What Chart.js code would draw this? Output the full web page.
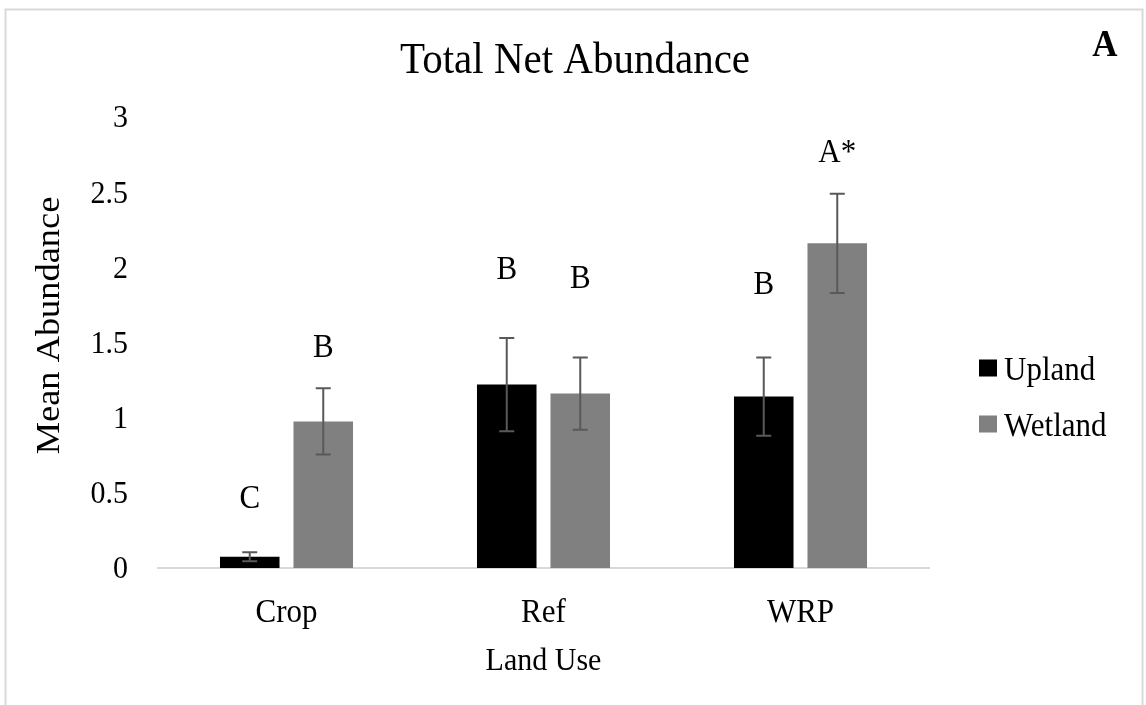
<!DOCTYPE html>
<html>
<head>
<meta charset="utf-8">
<script src="https://cdn.jsdelivr.net/npm/chart.js@4.4.1/dist/chart.umd.min.js"></script>
<style>
  html, body { margin: 0; padding: 0; background: #ffffff; }
  #wrap { width: 1146px; height: 705px; position: relative; }
</style>
</head>
<body>
<div id="wrap"><canvas id="chart" width="1146" height="705"></canvas></div>
<script>
// Land-use categories and mean abundance per habitat, with standard errors
const landUse = ['Crop', 'Ref', 'WRP'];
const uplandMean = [0.075, 1.22, 1.14];
const uplandErr = [0.03, 0.31, 0.26];
const wetlandMean = [0.975, 1.16, 2.16];
const wetlandErr = [0.22, 0.24, 0.33];

// Significance letters and the axis value each one sits at
const uplandLetters = ['C', 'B', 'B'];
const wetlandLetters = ['B', 'B', 'A*'];
const uplandLetterAt = [0.46, 1.98, 1.88];
const wetlandLetterAt = [1.46, 1.92, 2.76];

const yTicks = [0, 0.5, 1, 1.5, 2, 2.5, 3];
const yTickLabels = ['0', '0.5', '1', '1.5', '2', '2.5', '3'];

const SERIF = '"Liberation Serif", "Times New Roman", serif';
const TEXT_STRETCH = 1.07; // glyphs are slightly taller than wide

function drawText(ctx, text, x, y, font, align, baseline, rotate) {
  ctx.save();
  ctx.translate(x, y);
  if (rotate) ctx.rotate(rotate);
  ctx.scale(rotate ? TEXT_STRETCH : 1, rotate ? 1 : TEXT_STRETCH);
  ctx.font = font;
  ctx.textAlign = align;
  ctx.textBaseline = baseline;
  ctx.fillStyle = '#000000';
  ctx.fillText(text, 0, 0);
  ctx.restore();
}

const errorBars = {
  id: 'errorBars',
  afterDatasetsDraw(chart) {
    const ctx = chart.ctx;
    const y = chart.scales.y;
    ctx.save();
    ctx.strokeStyle = '#595959';
    ctx.lineWidth = 2;
    chart.data.datasets.forEach((ds, di) => {
      const meta = chart.getDatasetMeta(di);
      meta.data.forEach((bar, i) => {
        const v = ds.data[i], e = ds.errors[i];
        const top = y.getPixelForValue(v + e);
        const bot = y.getPixelForValue(v - e);
        const cx = bar.x;
        ctx.beginPath();
        ctx.moveTo(cx, top); ctx.lineTo(cx, bot);
        ctx.moveTo(cx - 7.5, top); ctx.lineTo(cx + 7.5, top);
        ctx.moveTo(cx - 7.5, bot); ctx.lineTo(cx + 7.5, bot);
        ctx.stroke();
      });
    });
    ctx.restore();
  }
};

const annotations = {
  id: 'annotations',
  beforeDraw(chart) {
    const ctx = chart.ctx;
    ctx.save();
    ctx.fillStyle = '#ffffff';
    ctx.fillRect(0, 0, chart.width, chart.height);
    // outer frame
    ctx.strokeStyle = '#d9d9d9';
    ctx.lineWidth = 2;
    ctx.strokeRect(5.5, 9.5, 1137, 720);
    ctx.restore();
  },
  afterDraw(chart) {
    const ctx = chart.ctx;
    const x = chart.scales.x;
    const y = chart.scales.y;

    drawText(ctx, 'Total Net Abundance', 575, 61, '41px ' + SERIF, 'center', 'middle');
    drawText(ctx, 'A', 1105, 46, 'bold 35px ' + SERIF, 'center', 'middle');

    // value axis: tick labels and title
    y.ticks.forEach((t) => {
      drawText(ctx, yTickLabels[yTicks.indexOf(t.value)], 128, y.getPixelForValue(t.value) + 2,
        '30px ' + SERIF, 'right', 'middle');
    });
    drawText(ctx, 'Mean Abundance', 50, (y.getPixelForValue(0) + y.getPixelForValue(3)) / 2 - 17,
      '34px ' + SERIF, 'center', 'middle', -Math.PI / 2);

    // category axis: tick labels and title
    landUse.forEach((name, i) => {
      drawText(ctx, name, x.getPixelForTick(i), 613, '31px ' + SERIF, 'center', 'middle');
    });
    drawText(ctx, 'Land Use', (x.left + x.right) / 2, 662, '30px ' + SERIF, 'center', 'middle');

    // significance letters
    chart.data.datasets.forEach((ds, di) => {
      const meta = chart.getDatasetMeta(di);
      meta.data.forEach((bar, i) => {
        drawText(ctx, ds.letters[i], bar.x, y.getPixelForValue(ds.letterAt[i]), '31px ' + SERIF, 'center', 'middle');
      });
    });

    // legend
    const rows = [368, 424];
    chart.data.datasets.forEach((ds, di) => {
      ctx.fillStyle = ds.backgroundColor;
      ctx.fillRect(979, rows[di] - 8.5, 18, 17);
      drawText(ctx, ds.label, 1004, rows[di] + 12, '31px ' + SERIF, 'left', 'alphabetic');
    });
  }
};

new Chart(document.getElementById('chart'), {
  type: 'bar',
  data: {
    labels: landUse,
    datasets: [
      { label: 'Upland', data: uplandMean, errors: uplandErr, letters: uplandLetters, letterAt: uplandLetterAt,
        backgroundColor: '#000000', categoryPercentage: 0.572, barPercentage: 0.81 },
      { label: 'Wetland', data: wetlandMean, errors: wetlandErr, letters: wetlandLetters, letterAt: wetlandLetterAt,
        backgroundColor: '#808080', categoryPercentage: 0.572, barPercentage: 0.81 }
    ]
  },
  options: {
    responsive: false,
    animation: false,
    devicePixelRatio: 1,
    layout: { padding: { top: 117, right: 217, bottom: 0, left: 0 } },
    plugins: { legend: { display: false }, tooltip: { enabled: false } },
    scales: {
      x: {
        grid: { display: false, drawTicks: false },
        border: { display: true, color: '#d9d9d9', width: 2 },
        ticks: { display: false },
        afterFit(s) { s.height = 137; }
      },
      y: {
        min: 0, max: 3,
        afterBuildTicks(s) { s.ticks = yTicks.map(v => ({ value: v })); },
        grid: { display: false, drawTicks: false },
        border: { display: false },
        ticks: { display: false },
        afterFit(s) { s.width = 158; }
      }
    }
  },
  plugins: [errorBars, annotations]
});
</script>
</body>
</html>
